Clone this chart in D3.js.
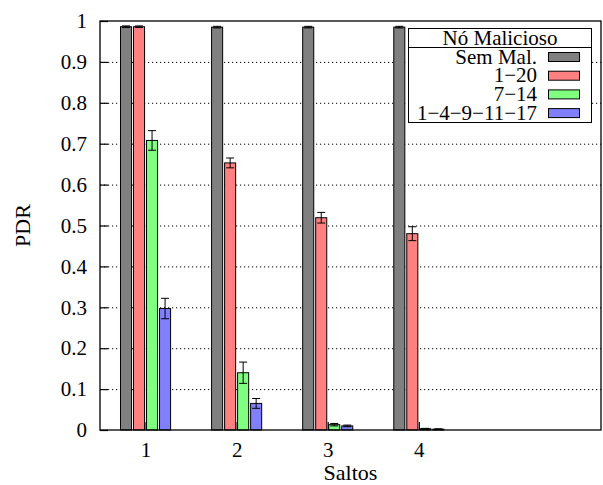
<!DOCTYPE html>
<html>
<head>
<meta charset="utf-8">
<script src="https://cdn.jsdelivr.net/npm/d3@7"></script>
<style>
  body { margin: 0; background: #fff; }
  svg text { font-family: "Liberation Serif", "Times New Roman", Times, "DejaVu Serif", serif !important; fill: #000; }
</style>
</head>
<body>
<script>
// hops (x categories)
var saltos = ['1', '2', '3', '4'];

// legend entries, one per series
var seriesNames = ['Sem Mal.', '1\u221220', '7\u221214', '1\u22124\u22129\u221211\u221217'];
var seriesColors = ['#808080', '#ff8080', '#80ff80', '#8080ff'];

// PDR per hop, one array per series
var semMal = [0.986, 0.985, 0.985, 0.985];
var mal1_20 = [0.986, 0.653, 0.519, 0.480];
var mal7_14 = [0.708, 0.140, 0.013, 0.003];
var malMulti = [0.297, 0.065, 0.010, 0.002];

// error bar half widths
var errSemMal = [0.002, 0.002, 0.002, 0.002];
var err1_20 = [0.002, 0.012, 0.013, 0.017];
var err7_14 = [0.024, 0.026, 0.003, 0.001];
var errMulti = [0.025, 0.012, 0.002, 0.001];

var yTicks = [0, 0.1, 0.2, 0.3, 0.4, 0.5, 0.6, 0.7, 0.8, 0.9, 1];

var values = [semMal, mal1_20, mal7_14, malMulti];
var errors = [errSemMal, err1_20, err7_14, errMulti];

var bars = [];
values.forEach(function(serie, s) {
  serie.forEach(function(v, i) {
    bars.push({serie: s, hop: i + 1, value: v, err: errors[s][i]});
  });
});

var margin = {top: 21, right: 2, bottom: 55, left: 100};
var fullWidth = 603;
var fullHeight = 485;
var width = fullWidth - margin.left - margin.right;
var height = fullHeight - margin.top - margin.bottom;

var svg = d3.select('body').append('svg')
  .attr('width', fullWidth)
  .attr('height', fullHeight)
  .append('g')
    .attr('transform', 'translate(' + margin.left + ',' + margin.top + ')');

// gnuplot clustered histogram: 4 boxes + gap of 3 per cluster
var slots = seriesNames.length + 3;
var boxWidth = 0.85 / slots;

var xScale = d3.scaleLinear()
  .domain([0.5, 6])
  .range([0, width]);

var yScale = d3.scaleLinear()
  .domain([0, 1])
  .range([height, 0]);

function barCenter(d) {
  return d.hop + (d.serie - (seriesNames.length - 1) / 2) / slots;
}

// dotted grid
svg.append('g')
  .classed('grid', true)
  .call(d3.axisLeft(yScale)
    .tickValues(yTicks.slice(1, -1))
    .tickSize(-width)
    .tickFormat(''))
  .call(function(g) {
    g.select('.domain').remove();
    g.selectAll('line')
      .attr('stroke', '#000')
      .attr('stroke-width', 1)
      .attr('stroke-dasharray', '1.2,2.8');
  });

var xAxis = d3.axisBottom(xScale)
  .tickValues(saltos.map(Number))
  .tickFormat(function(d) { return saltos[d - 1]; })
  .tickSizeInner(-8)
  .tickSizeOuter(0)
  .tickPadding(12);

var yAxis = d3.axisLeft(yScale)
  .tickValues(yTicks)
  .tickFormat(d3.format('~g'))
  .tickSizeInner(-8)
  .tickSizeOuter(0)
  .tickPadding(13);

var barHolder = svg.append('g')
  .classed('bar-holder', true);

barHolder.selectAll('rect')
  .data(bars)
  .enter().append('rect')
    .attr('x', function(d) { return xScale(barCenter(d) - boxWidth / 2); })
    .attr('width', xScale(boxWidth) - xScale(0))
    .attr('y', function(d) { return yScale(d.value); })
    .attr('height', function(d) { return yScale(0) - yScale(d.value); })
    .attr('fill', function(d) { return seriesColors[d.serie]; })
    .attr('stroke', '#000')
    .attr('stroke-width', 1);

var errHolder = svg.append('g')
  .classed('error-bars', true)
  .attr('stroke', '#000')
  .attr('stroke-width', 1);

var errs = errHolder.selectAll('g')
  .data(bars)
  .enter().append('g');

errs.append('line')
  .attr('x1', function(d) { return xScale(barCenter(d)); })
  .attr('x2', function(d) { return xScale(barCenter(d)); })
  .attr('y1', function(d) { return yScale(d.value - d.err); })
  .attr('y2', function(d) { return yScale(d.value + d.err); });

[-1, 1].forEach(function(sign) {
  errs.append('line')
    .attr('x1', function(d) { return xScale(barCenter(d)) - 4; })
    .attr('x2', function(d) { return xScale(barCenter(d)) + 4; })
    .attr('y1', function(d) { return yScale(d.value + sign * d.err); })
    .attr('y2', function(d) { return yScale(d.value + sign * d.err); });
});

var xAxisEle = svg.append('g')
  .classed('x axis', true)
  .attr('transform', 'translate(0,' + height + ')')
  .call(xAxis);

var yAxisEle = svg.append('g')
  .classed('y axis', true)
  .call(yAxis);

svg.selectAll('.axis')
  .attr('font-family', 'Liberation Serif')
  .attr('font-size', 21);
svg.selectAll('.axis line').attr('stroke-width', 1.2);
svg.selectAll('.axis .domain').remove();

// frame
svg.append('rect')
  .attr('width', width)
  .attr('height', height)
  .attr('fill', 'none')
  .attr('stroke', '#000')
  .attr('stroke-width', 1.3);

svg.append('text')
  .attr('transform', 'translate(-70,' + (height / 2) + ')rotate(-90)')
  .style('text-anchor', 'middle')
  .style('font-size', '22px')
  .text('PDR');

svg.append('text')
  .attr('x', width / 2)
  .attr('y', height + 50)
  .style('text-anchor', 'middle')
  .style('font-size', '22px')
  .text('Saltos');

// legend
var legend = svg.append('g')
  .classed('legend', true)
  .attr('transform', 'translate(308.5,7.5)');

legend.append('rect')
  .attr('width', 183)
  .attr('height', 94)
  .attr('fill', '#fff')
  .attr('stroke', '#000')
  .attr('stroke-width', 1);

legend.append('line')
  .attr('x1', 0)
  .attr('x2', 183)
  .attr('y1', 19)
  .attr('y2', 19)
  .attr('stroke', '#000');

legend.append('text')
  .attr('x', 91.5)
  .attr('y', 16.5)
  .style('text-anchor', 'middle')
  .style('font-size', '21px')
  .text('N\u00f3 Malicioso');

var rows = legend.selectAll('.row')
  .data(seriesNames)
  .enter().append('g')
    .classed('row', true)
    .attr('transform', function(d, i) { return 'translate(0,' + (35 + i * 18.7) + ')'; });

rows.append('text')
  .attr('x', 128.5)
  .style('text-anchor', 'end')
  .style('font-size', '21px')
  .text(function(d) { return d; });

rows.append('rect')
  .attr('x', 140)
  .attr('y', -11)
  .attr('width', 31)
  .attr('height', 9)
  .attr('fill', function(d, i) { return seriesColors[i]; })
  .attr('stroke', '#000')
  .attr('stroke-width', 1);
</script>
</body>
</html>
